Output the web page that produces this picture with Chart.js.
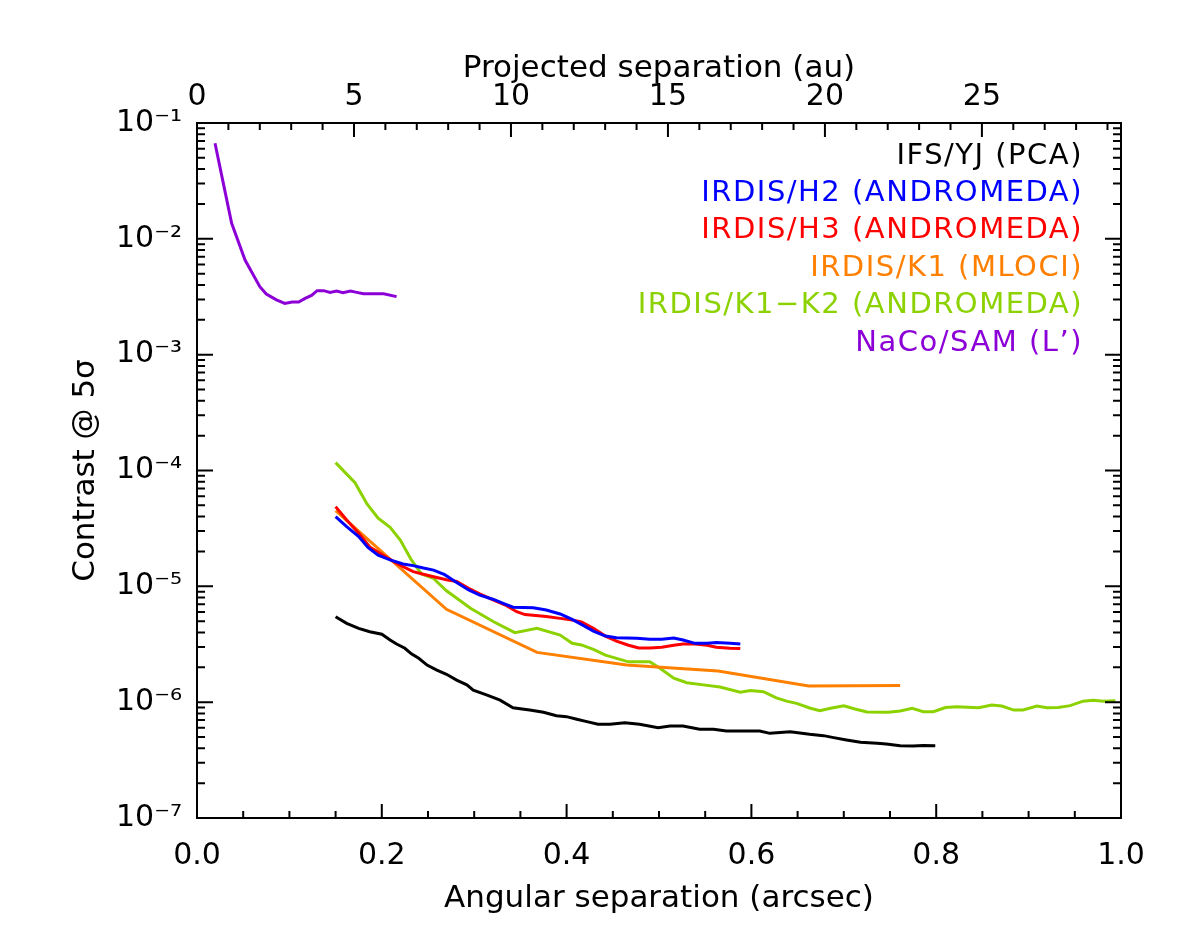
<!DOCTYPE html>
<html>
<head>
<meta charset="utf-8">
<title>Contrast curves</title>
<script src="https://cdn.jsdelivr.net/npm/chart.js@4.4.1/dist/chart.umd.min.js"></script>
<style>
  html, body { margin: 0; padding: 0; background: #fff; }
  canvas { display: block; }
</style>
</head>
<body>
<canvas id="contrastChart" width="1180" height="944"></canvas>
<script>
// distance used to convert arcsec -> au on the top axis
const DIST_PC = 29.43;

// IFS/YJ (PCA)
const ifsSep = [0.150, 0.162, 0.175, 0.187, 0.200, 0.209, 0.216, 0.225, 0.232, 0.240, 0.249, 0.259, 0.270, 0.281, 0.292, 0.299, 0.314, 0.328, 0.342, 0.360, 0.375, 0.389, 0.400, 0.411, 0.422, 0.434, 0.447, 0.463, 0.479, 0.499, 0.512, 0.526, 0.544, 0.559, 0.573, 0.609, 0.620, 0.642, 0.663, 0.678, 0.689, 0.703, 0.718, 0.736, 0.746, 0.761, 0.775, 0.786, 0.799];
const ifsContrast = [5.47e-6, 4.79e-6, 4.34e-6, 4.06e-6, 3.86e-6, 3.44e-6, 3.18e-6, 2.92e-6, 2.61e-6, 2.39e-6, 2.09e-6, 1.90e-6, 1.74e-6, 1.55e-6, 1.41e-6, 1.27e-6, 1.15e-6, 1.04e-6, 8.96e-7, 8.55e-7, 8.18e-7, 7.64e-7, 7.50e-7, 7.12e-7, 6.79e-7, 6.44e-7, 6.44e-7, 6.65e-7, 6.44e-7, 6.02e-7, 6.22e-7, 6.22e-7, 5.83e-7, 5.83e-7, 5.64e-7, 5.64e-7, 5.38e-7, 5.56e-7, 5.28e-7, 5.14e-7, 4.94e-7, 4.72e-7, 4.51e-7, 4.42e-7, 4.35e-7, 4.21e-7, 4.18e-7, 4.23e-7, 4.21e-7];

// IRDIS/H2 (ANDROMEDA)
const h2Sep = [0.150, 0.162, 0.175, 0.185, 0.196, 0.209, 0.223, 0.234, 0.245, 0.256, 0.268, 0.281, 0.294, 0.306, 0.321, 0.332, 0.342, 0.364, 0.378, 0.393, 0.406, 0.418, 0.429, 0.442, 0.454, 0.476, 0.490, 0.503, 0.516, 0.526, 0.539, 0.552, 0.562, 0.577, 0.588];
const h2Contrast = [4.0e-5, 3.28e-5, 2.69e-5, 2.17e-5, 1.86e-5, 1.69e-5, 1.56e-5, 1.51e-5, 1.44e-5, 1.38e-5, 1.26e-5, 1.08e-5, 9.3e-6, 8.4e-6, 7.7e-6, 7.1e-6, 6.6e-6, 6.54e-6, 6.25e-6, 5.77e-6, 5.19e-6, 4.6e-6, 4.11e-6, 3.72e-6, 3.6e-6, 3.56e-6, 3.49e-6, 3.49e-6, 3.58e-6, 3.44e-6, 3.22e-6, 3.22e-6, 3.27e-6, 3.22e-6, 3.18e-6];

// IRDIS/H3 (ANDROMEDA)
const h3Sep = [0.150, 0.162, 0.175, 0.187, 0.198, 0.213, 0.223, 0.234, 0.245, 0.256, 0.270, 0.281, 0.294, 0.306, 0.321, 0.335, 0.346, 0.355, 0.378, 0.393, 0.406, 0.416, 0.429, 0.442, 0.454, 0.467, 0.478, 0.490, 0.503, 0.516, 0.526, 0.539, 0.552, 0.562, 0.577, 0.588];
const h3Contrast = [4.88e-5, 3.74e-5, 2.87e-5, 2.19e-5, 1.93e-5, 1.63e-5, 1.48e-5, 1.34e-5, 1.27e-5, 1.21e-5, 1.14e-5, 1.10e-5, 9.6e-6, 8.6e-6, 7.6e-6, 6.8e-6, 6.04e-6, 5.7e-6, 5.48e-6, 5.29e-6, 5.12e-6, 4.92e-6, 4.34e-6, 3.72e-6, 3.37e-6, 3.1e-6, 2.94e-6, 2.94e-6, 2.98e-6, 3.1e-6, 3.18e-6, 3.18e-6, 3.1e-6, 2.98e-6, 2.92e-6, 2.9e-6];

// IRDIS/K1 (MLOCI)
const k1Sep = [0.150, 0.270, 0.368, 0.465, 0.564, 0.662, 0.761];
const k1Contrast = [4.5e-5, 6.34e-6, 2.69e-6, 2.09e-6, 1.86e-6, 1.38e-6, 1.39e-6];

// IRDIS/K1-K2 (ANDROMEDA)
const k12Sep = [0.150, 0.171, 0.184, 0.196, 0.209, 0.220, 0.232, 0.243, 0.256, 0.270, 0.296, 0.321, 0.344, 0.368, 0.393, 0.406, 0.416, 0.429, 0.442, 0.454, 0.467, 0.490, 0.501, 0.516, 0.530, 0.548, 0.566, 0.588, 0.599, 0.613, 0.627, 0.638, 0.649, 0.663, 0.674, 0.687, 0.700, 0.712, 0.725, 0.748, 0.761, 0.774, 0.786, 0.797, 0.810, 0.822, 0.846, 0.860, 0.871, 0.884, 0.894, 0.909, 0.920, 0.932, 0.945, 0.959, 0.970, 0.981, 0.994];
const k12Contrast = [1.17e-4, 7.85e-5, 5.14e-5, 3.87e-5, 3.23e-5, 2.51e-5, 1.69e-5, 1.28e-5, 1.17e-5, 9.16e-6, 6.46e-6, 4.95e-6, 3.98e-6, 4.35e-6, 3.8e-6, 3.22e-6, 3.12e-6, 2.86e-6, 2.55e-6, 2.39e-6, 2.23e-6, 2.23e-6, 1.96e-6, 1.61e-6, 1.47e-6, 1.41e-6, 1.35e-6, 1.22e-6, 1.26e-6, 1.23e-6, 1.09e-6, 1.02e-6, 9.77e-7, 8.9e-7, 8.45e-7, 8.9e-7, 9.3e-7, 8.73e-7, 8.22e-7, 8.18e-7, 8.4e-7, 8.85e-7, 8.28e-7, 8.28e-7, 9.0e-7, 9.13e-7, 8.96e-7, 9.44e-7, 9.27e-7, 8.55e-7, 8.55e-7, 9.27e-7, 8.96e-7, 9.0e-7, 9.33e-7, 1.02e-6, 1.04e-6, 1.02e-6, 1.03e-6];

// NaCo/SAM (L')
const samSep = [0.0195, 0.0285, 0.0375, 0.052, 0.068, 0.075, 0.086, 0.095, 0.103, 0.110, 0.117, 0.124, 0.130, 0.137, 0.144, 0.151, 0.158, 0.166, 0.173, 0.180, 0.202, 0.216];
const samContrast = [0.0668, 0.0301, 0.0136, 0.00656, 0.00386, 0.00334, 0.00297, 0.00277, 0.00285, 0.00285, 0.00306, 0.00325, 0.00357, 0.00357, 0.00345, 0.00355, 0.00343, 0.00355, 0.00345, 0.00336, 0.00336, 0.00317];

const seriesNames = ['IFS/YJ (PCA)', 'IRDIS/H2 (ANDROMEDA)', 'IRDIS/H3 (ANDROMEDA)', 'IRDIS/K1 (MLOCI)', 'IRDIS/K1\u2212K2 (ANDROMEDA)', 'NaCo/SAM (L\u2019)'];
const seriesColors = ['#000000', '#0000ff', '#ff0000', '#ff8000', '#8cd200', '#8c00d7'];
const seriesSep = [ifsSep, h2Sep, h3Sep, k1Sep, k12Sep, samSep];
const seriesContrast = [ifsContrast, h2Contrast, h3Contrast, k1Contrast, k12Contrast, samContrast];

const FONT = 'DejaVu Sans';
const SUP = { '-': '\u207B', '1': '\u00B9', '2': '\u00B2', '3': '\u00B3', '4': '\u2074', '5': '\u2075', '6': '\u2076', '7': '\u2077' };

// Rahmen + nach innen zeigende Ticks (Haupt- und Nebenticks), wie im Original
const frameTicks = {
  id: 'frameTicks',
  afterDatasetsDraw(chart) {
    const { ctx, chartArea: a, scales } = chart;
    ctx.save();
    ctx.strokeStyle = '#000';
    ctx.lineWidth = 2;
    ctx.strokeRect(a.left, a.top, a.right - a.left, a.bottom - a.top);
    ctx.beginPath();
    // unten: arcsec
    for (let i = 0; i <= 20; i++) {
      const px = scales.x.getPixelForValue(i * 0.05);
      const len = i % 4 === 0 ? 14 : 7;
      ctx.moveTo(px, a.bottom);
      ctx.lineTo(px, a.bottom - len);
    }
    // oben: au
    for (let au = 0; au <= 29; au++) {
      const px = scales.x2.getPixelForValue(au);
      const len = au % 5 === 0 ? 14 : 7;
      ctx.moveTo(px, a.top);
      ctx.lineTo(px, a.top + len);
    }
    // links / rechts: log
    for (let e = -7; e <= -1; e++) {
      for (let m = 1; m <= 9; m++) {
        const v = m * Math.pow(10, e);
        if (v > 0.1 * 1.0001) break;
        const py = scales.y.getPixelForValue(v);
        const len = m === 1 ? 16 : 8;
        ctx.moveTo(a.left, py);
        ctx.lineTo(a.left + len, py);
        ctx.moveTo(a.right, py);
        ctx.lineTo(a.right - len, py);
      }
    }
    ctx.stroke();
    ctx.restore();
  }
};

// Legende als rechtsbündige farbige Textzeilen oben rechts
const textLegend = {
  id: 'textLegend',
  afterDraw(chart) {
    const { ctx } = chart;
    ctx.save();
    ctx.font = '29px "' + FONT + '"';
    ctx.letterSpacing = '1.5px';
    ctx.textAlign = 'right';
    ctx.textBaseline = 'middle';
    seriesNames.forEach((name, i) => {
      ctx.fillStyle = seriesColors[i];
      ctx.fillText(name, 1083, 156 + i * 37.4);
    });
    ctx.restore();
  }
};

const datasets = seriesNames.map((name, i) => ({
  label: name,
  data: seriesSep[i].map((s, j) => ({ x: s, y: seriesContrast[i][j] })),
  borderColor: seriesColors[i],
  backgroundColor: seriesColors[i],
  borderWidth: 3,
  pointRadius: 0,
  tension: 0,
  fill: false
}));

const tickFont = { family: FONT, size: 30 };
const titleFont = { family: FONT, size: 31 };

new Chart(document.getElementById('contrastChart'), {
  type: 'line',
  data: { datasets: datasets },
  options: {
    responsive: false,
    devicePixelRatio: 1,
    animation: false,
    layout: { padding: 0 },
    plugins: { legend: { display: false }, tooltip: { enabled: false } },
    scales: {
      x: {
        type: 'linear', position: 'bottom', min: 0, max: 1,
        grid: { display: false, drawTicks: false },
        border: { display: false },
        ticks: {
          stepSize: 0.2, color: '#000', font: tickFont, padding: 20, maxRotation: 0,
          callback: v => v.toFixed(1)
        },
        title: { display: true, text: 'Angular separation (arcsec)', color: '#000', font: titleFont, padding: { bottom: 26 } },
        afterFit: s => { s.height = 126; }
      },
      x2: {
        type: 'linear', position: 'top', min: 0, max: DIST_PC,
        grid: { display: false, drawTicks: false },
        border: { display: false },
        ticks: {
          stepSize: 5, color: '#000', font: tickFont, padding: 8, maxRotation: 0,
          callback: v => (v % 5 === 0 ? String(v) : '')
        },
        title: { display: true, text: 'Projected separation (au)', color: '#000', font: titleFont, padding: { top: 50 } },
        afterFit: s => { s.height = 123; }
      },
      y: {
        type: 'logarithmic', position: 'left', min: 1e-7, max: 1e-1,
        grid: { display: false, drawTicks: false },
        border: { display: false },
        ticks: {
          color: '#000', font: tickFont, padding: 15, autoSkip: false,
          callback: v => {
            const e = Math.round(Math.log10(v));
            if (Math.abs(v / Math.pow(10, e) - 1) > 1e-6) return '';
            return '10' + String(e).split('').map(c => SUP[c]).join('');
          }
        },
        title: { display: true, text: 'Contrast @ 5\u03C3', color: '#000', font: titleFont, padding: { top: 67 } },
        afterFit: s => { s.width = 197; }
      },
      y2: {
        type: 'logarithmic', position: 'right', min: 1e-7, max: 1e-1,
        grid: { display: false, drawTicks: false },
        border: { display: false },
        ticks: { display: false },
        afterFit: s => { s.width = 59; }
      }
    }
  },
  plugins: [frameTicks, textLegend]
});
</script>
</body>
</html>
